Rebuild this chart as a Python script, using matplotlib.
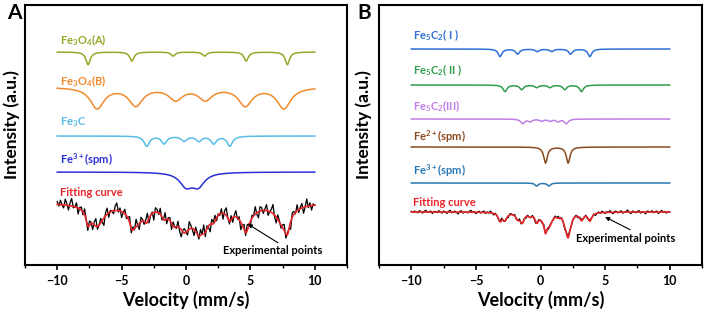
import numpy as np
import matplotlib
matplotlib.use("Agg")
import matplotlib.pyplot as plt
from matplotlib.ticker import MultipleLocator

plt.rcParams['font.family'] = ['Lato', 'DejaVu Sans']
plt.rcParams['mathtext.fontset'] = 'custom'
plt.rcParams['mathtext.bf'] = 'Lato:bold'
plt.rcParams['mathtext.rm'] = 'Lato:bold'
plt.rcParams['mathtext.default'] = 'bf'

# velocity grid for the experimental channels (mm/s)
v = np.linspace(-10, 10, 161)
vf = np.linspace(-10, 10, 1201)

# --- panel A: fitted sub-spectra (line positions mm/s, depths, half widths) ---
fe3o4a_pos = [-7.6, -4.2, -1.0, 1.44, 4.67, 7.87]
fe3o4a_dep = [12.7, 9.0, 4.0, 4.0, 9.0, 12.7]
fe3o4a_w = 0.2
fe3o4b_pos = [-6.9, -3.9, -0.8, 1.5, 4.6, 7.6]
fe3o4b_dep = [21, 18, 12, 12, 18, 21]
fe3o4b_w = 0.65
fe3c_pos = [-3.05, -1.7, -0.15, 1.0, 2.15, 3.4]
fe3c_dep = [10, 7.5, 5, 5, 7.5, 10]
fe3c_w = 0.25
fe3spm_a_pos = [0.0, 0.95]
fe3spm_a_dep = [13, 13]
fe3spm_a_w = 0.6

# --- panel B ---
fe5c2_1_pos = [-3.13, -1.77, -0.25, 0.86, 2.33, 3.82]
fe5c2_1_dep = [7.5, 5, 2.5, 2.5, 5, 7.5]
fe5c2_2_pos = [-2.75, -1.46, -0.3, 0.73, 1.88, 3.17]
fe5c2_2_dep = [6.5, 4.5, 2.5, 2.5, 4.5, 6.5]
fe5c2_3_pos = [-1.38, -0.8, 0.08, 0.73, 1.35, 2.0]
fe5c2_3_dep = [4.5, 2.5, 2, 2, 2.5, 4.5]
fe5c2_w = 0.18
fe2spm_pos = [0.39, 2.14]
fe2spm_dep = [16, 16]
fe2spm_w = 0.17
fe3spm_b_pos = [-0.3, 0.65]
fe3spm_b_dep = [3, 3]
fe3spm_b_w = 0.15

# scatter of the measured counts around the fit (read roughly)
noise = [2, -1, 3, 0, -2, 4, 1, -3, 2, 5, -1, 0, 3, -4, 1, 2, -2, 4, 0, -3,
         3, 1, -4, 2, 5, -2, 0, 3, -1, -5, 2, 4, -3, 1, 0, -2, 3, 5, -1, 2,
         -4, 0, 3, -2, 1, 4, -3, 2, -1, 5, 0, -4, 3, 1, -2, 2, 6, -3, 0, 1,
         -5, 3, 2, -1, 4, -2, 0, 5, -3, 1, 2, -4, 3, 0, -1, 4, -2, -5, 1, 3,
         0, -3, 5, 2, -1, -4, 3, 1, -2, 4, 0, 6, -3, 2, -1, -5, 3, 1, 4, -2,
         1, -1, 3, -4, 2, 5, 0, -2, 3, -3, 1, 4, -1, 2, -5, 0, 3, -2, 4, 1,
         -3, 2, 0, 5, -1, -4, 3, 2, -2, 1, 4, -3, 0, 2, 6, -1, -4, 3, 1, -2,
         2, 4, -3, 1, 0, -5, 3, 2, -1, 4, -2, 1, 3, -4, 0, 5, -1, 2, -3, 1, 0]


def dip(x, pos, dep, w):
    out = np.zeros_like(x)
    for p, d in zip(pos, dep):
        out += d / (1 + ((x - p) / w) ** 2)
    return out


fig = plt.figure(figsize=(7.06, 3.13), dpi=100)
axA = fig.add_axes([25 / 706, 48 / 313, 322 / 706, 260 / 313])
axB = fig.add_axes([379 / 706, 48 / 313, 323 / 706, 260 / 313])

lab_kw = dict(fontsize=8, fontweight='bold', ha='left', va='center')

# ---------------- A ----------------
comps_a = [
    ("Fe$_3$O$_4$(A)", '#9aa629', fe3o4a_pos, fe3o4a_dep, fe3o4a_w, 213, 225),
    ("Fe$_3$O$_4$(B)", '#f08a2c', fe3o4b_pos, fe3o4b_dep, fe3o4b_w, 178, 184),
    ("Fe$_3$C", '#55bde6', fe3c_pos, fe3c_dep, fe3c_w, 129, 143),
    ("Fe$^{3+}$(spm)", '#2b2fd6', fe3spm_a_pos, fe3spm_a_dep, fe3spm_a_w, 93, 105),
]
total = np.zeros_like(vf)
total_pts = np.zeros_like(v)
for name, col, pos, dep, w, base, ly in comps_a:
    axA.plot(vf, base - dip(vf, pos, dep, w), color=col, lw=1.1)
    axA.text(-9.8, ly, name, color=col, **lab_kw)
    total += dip(vf, pos, dep, w)
    total_pts += dip(v, pos, dep, w)

fit_base_a = 62
axA.plot(v, fit_base_a - total_pts + 1.5 * np.array(noise), color='black', lw=0.9)
axA.plot(vf, fit_base_a - total, color='#e8262a', lw=1.2)
axA.text(-9.8, 73, "Fitting curve", color='#e8262a', **lab_kw)
axA.annotate("Experimental points", xy=(4.8, 41), xytext=(2.85, 14),
             fontsize=8, fontweight='bold', ha='left', va='center',
             arrowprops=dict(arrowstyle='-|>', color='black', lw=0.8,
                             shrinkA=0, shrinkB=0, mutation_scale=6,
                             relpos=(0.6, 1.0)))

# ---------------- B ----------------
comps_b = [
    ("Fe$_5$C$_2$( I )", '#2e6fd8', fe5c2_1_pos, fe5c2_1_dep, fe5c2_w, 216, 230),
    ("Fe$_5$C$_2$( II )", '#2f9e4c', fe5c2_2_pos, fe5c2_2_dep, fe5c2_w, 180, 195),
    ("Fe$_5$C$_2$(III)", '#c07de3', fe5c2_3_pos, fe5c2_3_dep, fe5c2_w, 146, 159),
    ("Fe$^{2+}$(spm)", '#8a4a1f', fe2spm_pos, fe2spm_dep, fe2spm_w, 118, 128),
    ("Fe$^{3+}$(spm)", '#2a78b2', fe3spm_b_pos, fe3spm_b_dep, fe3spm_b_w, 82, 94),
]
total = np.zeros_like(vf)
total_pts = np.zeros_like(v)
for name, col, pos, dep, w, base, ly in comps_b:
    axB.plot(vf, base - dip(vf, pos, dep, w), color=col, lw=1.1)
    axB.text(-9.85, ly, name, color=col, **lab_kw)
    total += dip(vf, pos, dep, w)
    total_pts += dip(v, pos, dep, w)

fit_base_b = 53
axB.plot(v, fit_base_b - 1.1 * total_pts + 0.35 * np.array(noise), color='black', lw=0.9)
axB.plot(vf, fit_base_b - 1.1 * total, color='#e8262a', lw=1.2)
axB.text(-9.85, 63, "Fitting curve", color='#e8262a', **lab_kw)
axB.annotate("Experimental points", xy=(5.0, 48), xytext=(2.75, 27),
             fontsize=8, fontweight='bold', ha='left', va='center',
             arrowprops=dict(arrowstyle='-|>', color='black', lw=0.8,
                             shrinkA=0, shrinkB=0, mutation_scale=6,
                             relpos=(0.6, 1.0)))

for ax, letter, lx in [(axA, "A", 14), (axB, "B", 364)]:
    ax.set_xlim(-12.5, 12.5)
    ax.set_ylim(0, 260)
    ax.set_yticks([])
    ax.xaxis.set_major_locator(MultipleLocator(5))
    ax.xaxis.set_minor_locator(MultipleLocator(2.5))
    ax.tick_params(axis='x', which='major', direction='out', length=3.5, width=1.2,
                   labelsize=9, pad=4)
    ax.tick_params(axis='x', which='minor', direction='out', length=2, width=1.0)
    for lbl in ax.get_xticklabels():
        lbl.set_fontweight('bold')
    for s in ax.spines.values():
        s.set_linewidth(1.5)
    ax.text(0.5, -0.135, "Velocity (mm/s)", transform=ax.transAxes, ha='center',
            va='center', fontsize=13, fontweight='bold')
    fig.text(lx / 706, 1 - 13 / 313, letter, ha='center', va='center',
             fontsize=15, fontweight='bold')

fig.text(12 / 706, 1 - 125 / 313, "Intensity (a.u.)", rotation=90, ha='center',
         va='center', fontsize=12.5, fontweight='bold')
fig.text(364 / 706, 1 - 125 / 313, "Intensity (a.u.)", rotation=90, ha='center',
         va='center', fontsize=12.5, fontweight='bold')

fig.savefig("out.png", dpi=100)
